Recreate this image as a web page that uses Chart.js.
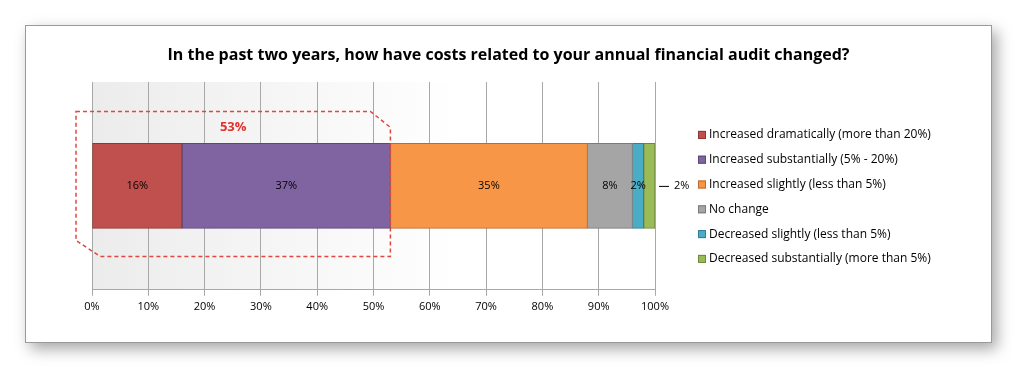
<!DOCTYPE html>
<html>
<head>
<meta charset="utf-8">
<script src="https://cdn.jsdelivr.net/npm/chart.js@4/dist/chart.umd.min.js"></script>
<style>
  body { margin: 0; background: #fff; width: 1024px; height: 377px; overflow: hidden; }
  .frame {
    position: absolute; left: 25px; top: 25px; width: 965px; height: 316px;
    border: 1px solid #9a9a9a; background: #fff;
    box-shadow: 5px 6px 14px rgba(0,0,0,0.35);
  }
  canvas { display: block; }
</style>
</head>
<body>
<div class="frame"><canvas id="auditChart" width="965" height="316"></canvas></div>
<script>
// ----- DATA -----
const categories = ['Costs'];
const seriesLabels = [
    'Increased dramatically (more than 20%)',
    'Increased substantially (5% - 20%)',
    'Increased slightly (less than 5%)',
    'No change',
    'Decreased slightly (less than 5%)',
    'Decreased substantially (more than 5%)'
];
const seriesValues = [16, 37, 35, 8, 2, 2];
const seriesColors = ['#c0504d', '#8064a2', '#f79646', '#a5a5a5', '#4bacc6', '#9bbb59'];
const seriesBorders = ['#8c3836', '#5c4876', '#b86c31', '#7a7a7a', '#367d90', '#6f8840'];
const tickValues = [0, 10, 20, 30, 40, 50, 60, 70, 80, 90, 100];
const bracketTotal = 53; // first two series combined
const chartTitle = 'In the past two years, how have costs related to your annual financial audit changed?';

const FONT = '"Open Sans", "Liberation Sans", sans-serif';

// plot background: light gray fading to white
const plotBackground = {
    id: 'plotBackground',
    beforeDraw(chart) {
        const { ctx, chartArea: a } = chart;
        const g = ctx.createLinearGradient(a.left, 0, a.right, 0);
        g.addColorStop(0, '#ececec');
        g.addColorStop(0.65, '#ffffff');
        g.addColorStop(1, '#ffffff');
        ctx.save();
        ctx.fillStyle = g;
        ctx.fillRect(a.left, a.top, a.right - a.left, a.bottom - a.top);
        ctx.restore();
    }
};

// title, labels, bracket and legend
const decorations = {
    id: 'decorations',
    afterDatasetsDraw(chart) {
        const { ctx } = chart;
        const x = chart.scales.x;
        ctx.save();

        // title centred over the whole frame
        ctx.font = 'bold 16px ' + FONT;
        ctx.fillStyle = '#000';
        ctx.textAlign = 'center';
        ctx.textBaseline = 'middle';
        ctx.fillText(chartTitle, chart.width / 2, 29);

        ctx.font = '11px ' + FONT;
        let barTop = 0, barBottom = 0, barMid = 0;
        chart.data.datasets.forEach((ds, i) => {
            const el = chart.getDatasetMeta(i).data[0];
            const left = el.base, right = el.x;
            barMid = el.y;
            barTop = el.y - el.height / 2;
            barBottom = el.y + el.height / 2;
            const txt = ds.data[0] + '%';
            ctx.fillStyle = '#000';
            if (i === chart.data.datasets.length - 1) {
                // leader line to outside label
                ctx.strokeStyle = '#000';
                ctx.lineWidth = 1;
                ctx.beginPath();
                ctx.moveTo(right + 4, el.y + 0.5);
                ctx.lineTo(right + 14, el.y + 0.5);
                ctx.stroke();
                ctx.textAlign = 'left';
                ctx.fillText(txt, right + 19, el.y);
            } else {
                ctx.textAlign = 'center';
                ctx.fillText(txt, (left + right) / 2, el.y);
            }
        });

        // dashed bracket around the first two series
        const bx0 = x.getPixelForValue(0) - 16;
        const bx1 = x.getPixelForValue(bracketTotal);
        const by0 = barTop - 32;
        const by1 = barBottom + 28;
        ctx.strokeStyle = '#e0473f';
        ctx.lineWidth = 1.5;
        ctx.setLineDash([4, 3]);
        ctx.beginPath();
        ctx.moveTo(bx0, by0);
        ctx.lineTo(bx1 - 20, by0);
        ctx.lineTo(bx1, by0 + 16);
        ctx.lineTo(bx1, by1);
        ctx.lineTo(bx0 + 24, by1);
        ctx.lineTo(bx0, by1 - 16);
        ctx.closePath();
        ctx.stroke();
        ctx.setLineDash([]);
        ctx.font = 'bold 13px ' + FONT;
        ctx.fillStyle = '#e0312a';
        ctx.textAlign = 'center';
        ctx.fillText(bracketTotal + '%', (bx0 + bx1) / 2, by0 + 16);

        // legend
        const lx = x.right + 43;
        const ly = barMid - 51;
        ctx.font = '12px ' + FONT;
        ctx.textAlign = 'left';
        seriesLabels.forEach((lab, i) => {
            const yy = ly + i * 24.8;
            ctx.fillStyle = seriesColors[i];
            ctx.fillRect(lx, yy - 4, 8, 8);
            ctx.strokeStyle = seriesBorders[i];
            ctx.lineWidth = 1;
            ctx.strokeRect(lx + 0.5, yy - 3.5, 7, 7);
            ctx.fillStyle = '#000';
            ctx.fillText(lab, lx + 11, yy);
        });
        ctx.restore();
    }
};

const datasets = seriesValues.map((v, i) => ({
    label: seriesLabels[i],
    data: [v],
    backgroundColor: seriesColors[i],
    borderColor: seriesBorders[i],
    borderWidth: 1,
    borderSkipped: false,
    barThickness: 85
}));

new Chart(document.getElementById('auditChart'), {
    type: 'bar',
    data: { labels: categories, datasets },
    options: {
        indexAxis: 'y',
        responsive: false,
        animation: false,
        layout: { padding: { left: 66, right: 336, top: 56, bottom: 25 } },
        plugins: {
            legend: { display: false },
            tooltip: { enabled: false },
            title: { display: false }
        },
        scales: {
            x: {
                stacked: true,
                min: 0,
                max: 100,
                afterBuildTicks(axis) { axis.ticks = tickValues.map(v => ({ value: v })); },
                ticks: {
                    color: '#000',
                    font: { family: FONT, size: 11 },
                    padding: 4,
                    callback: v => v + '%'
                },
                grid: { color: '#a8a8a8', lineWidth: 1, tickLength: 6, drawTicks: true },
                border: { color: '#a8a8a8' }
            },
            y: {
                stacked: true,
                display: false
            }
        }
    },
    plugins: [plotBackground, decorations]
});
</script>
</body>
</html>
